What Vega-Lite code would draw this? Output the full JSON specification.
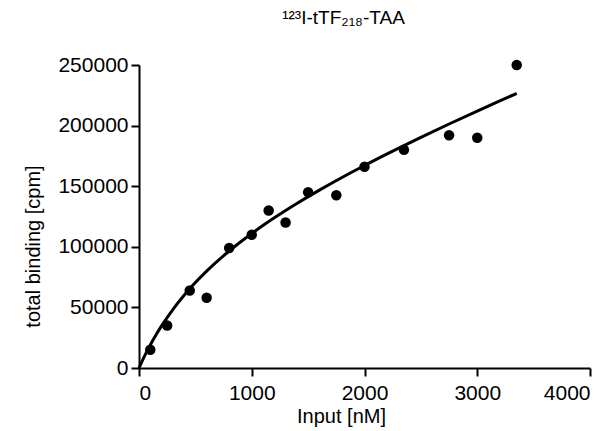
{
  "$schema": "https://vega.github.io/schema/vega-lite/v6.json",
  "width": 451,
  "height": 303,
  "autosize": {"type": "none"},
  "padding": {"left": 139, "top": 65, "right": 24, "bottom": 63},
  "background": "white",
  "title": {
    "text": "¹²³I-tTF₂₁₈-TAA",
    "font": "Liberation Sans",
    "fontSize": 19,
    "fontWeight": "normal",
    "color": "black",
    "anchor": "middle",
    "dx": -21,
    "offset": 26
  },
  "config": {
    "view": {"stroke": null},
    "axis": {
      "grid": false,
      "domainColor": "black",
      "domainWidth": 2,
      "tickColor": "black",
      "tickWidth": 2,
      "tickSize": 8,
      "labelFont": "Liberation Sans",
      "labelFontSize": 21,
      "labelColor": "black",
      "labelPadding": 3,
      "titleFont": "Liberation Sans",
      "titleFontSize": 20,
      "titleFontWeight": "normal",
      "titleColor": "black"
    }
  },
  "datasets": {
    "points": [
      {"input": 100, "binding": 15000},
      {"input": 250, "binding": 35000},
      {"input": 450, "binding": 64000},
      {"input": 600, "binding": 58000},
      {"input": 800, "binding": 99000},
      {"input": 1000, "binding": 110000},
      {"input": 1150, "binding": 130000},
      {"input": 1300, "binding": 120000},
      {"input": 1500, "binding": 145000},
      {"input": 1750, "binding": 142500},
      {"input": 2000, "binding": 166000},
      {"input": 2350, "binding": 180000},
      {"input": 2750, "binding": 192000},
      {"input": 3000, "binding": 190000},
      {"input": 3350, "binding": 250000}
    ],
    "fit": [
      {"input": 0, "binding": 0},
      {"input": 25, "binding": 5108},
      {"input": 50, "binding": 9957},
      {"input": 100, "binding": 18970},
      {"input": 150, "binding": 27194},
      {"input": 200, "binding": 34748},
      {"input": 300, "binding": 48229},
      {"input": 400, "binding": 60002},
      {"input": 500, "binding": 70470},
      {"input": 600, "binding": 79922},
      {"input": 800, "binding": 96548},
      {"input": 1000, "binding": 111000},
      {"input": 1200, "binding": 123934},
      {"input": 1400, "binding": 135775},
      {"input": 1600, "binding": 146799},
      {"input": 1800, "binding": 157197},
      {"input": 2000, "binding": 167100},
      {"input": 2250, "binding": 178946},
      {"input": 2500, "binding": 190315},
      {"input": 2750, "binding": 201312},
      {"input": 3000, "binding": 212010},
      {"input": 3200, "binding": 220392},
      {"input": 3350, "binding": 226600}
    ]
  },
  "layer": [
    {
      "data": {"name": "fit"},
      "mark": {"type": "line", "color": "black", "strokeWidth": 3, "interpolate": "monotone"},
      "encoding": {
        "x": {"field": "input", "type": "quantitative", "scale": {"domain": [0, 4000], "nice": false}, "axis": {"title": "Input [nM]", "values": [0, 1000, 2000, 3000, 4000], "format": "d", "labelPadding": 6, "titlePadding": 3, "titleX": 202}},
        "y": {"field": "binding", "type": "quantitative", "scale": {"domain": [0, 250000], "nice": false}, "axis": {"title": "total binding [cpm]", "values": [0, 50000, 100000, 150000, 200000, 250000], "format": "d", "titlePadding": 14, "titleY": 181}}
      }
    },
    {
      "data": {"name": "points"},
      "mark": {"type": "point", "filled": true, "color": "black", "opacity": 1, "size": 110},
      "encoding": {
        "x": {"field": "input", "type": "quantitative"},
        "y": {"field": "binding", "type": "quantitative"}
      }
    }
  ]
}
